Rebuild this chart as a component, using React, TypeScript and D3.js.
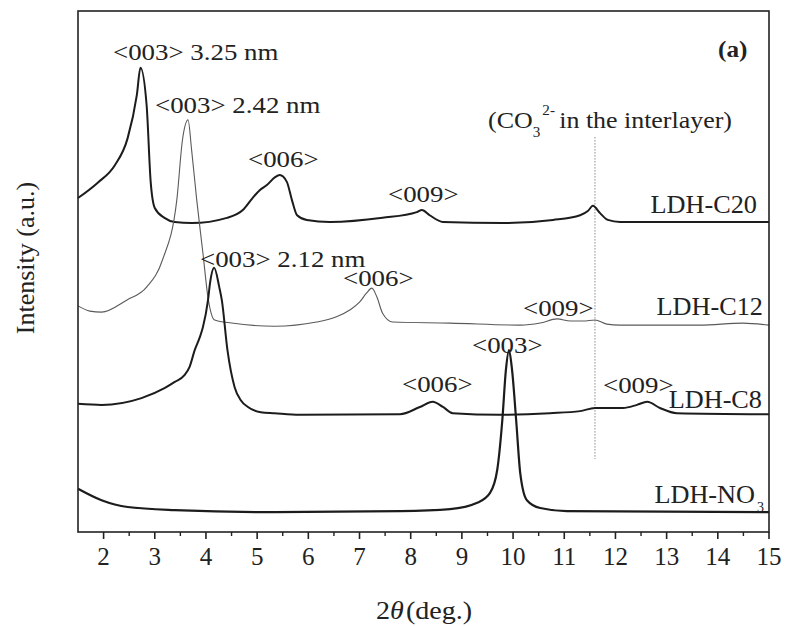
import React from "react";
import * as d3 from "d3";

// 2θ (deg.) and relative intensity (a.u., stacked offsets included) for each pattern
const c20TwoTheta = [1.5, 1.88, 2.22, 2.47, 2.65, 2.72, 2.84, 2.92, 3.0, 3.19, 3.39, 3.72, 4.41, 4.72, 4.91, 5.05, 5.19, 5.35, 5.44, 5.58, 5.68, 5.78, 5.97, 6.42, 7.45, 8.12, 8.22, 8.37, 8.63, 9.8, 10.78, 11.31, 11.46, 11.56, 11.7, 11.85, 12.09, 15.0];
const c20Intensity = [64.1, 67.0, 70.4, 75.6, 83.9, 89.1, 82.0, 67.2, 62.2, 60.3, 59.5, 59.3, 60.3, 61.8, 64.1, 65.6, 66.6, 68.1, 68.5, 67.2, 63.7, 60.8, 59.9, 59.5, 60.3, 61.4, 61.8, 60.8, 59.5, 59.3, 59.9, 60.8, 61.6, 62.6, 61.2, 59.9, 59.5, 59.5];

const c12TwoTheta = [1.5, 1.73, 1.96, 2.45, 2.84, 3.15, 3.43, 3.54, 3.65, 3.72, 3.82, 3.94, 4.04, 4.17, 4.5, 5.34, 6.16, 6.55, 6.81, 7.0, 7.14, 7.24, 7.34, 7.45, 7.65, 8.77, 10.14, 10.53, 10.86, 11.12, 11.37, 11.6, 11.83, 12.09, 13.65, 14.49, 15.0];
const c12Intensity = [43.4, 42.4, 42.2, 44.5, 47.0, 52.2, 63.7, 75.2, 79.1, 73.3, 63.7, 53.6, 45.0, 40.7, 40.1, 39.5, 40.3, 41.3, 42.6, 44.1, 45.9, 46.8, 45.1, 42.0, 40.3, 40.1, 39.7, 40.1, 40.9, 40.5, 40.5, 40.7, 39.9, 39.7, 39.7, 40.1, 39.7];

const c8TwoTheta = [1.5, 1.96, 2.74, 3.19, 3.39, 3.58, 3.68, 3.78, 3.88, 3.94, 4.04, 4.08, 4.16, 4.26, 4.31, 4.42, 4.56, 4.68, 4.82, 5.07, 5.34, 5.83, 7.79, 8.18, 8.43, 8.63, 8.82, 9.74, 10.72, 11.31, 11.6, 12.15, 12.42, 12.62, 12.87, 13.2, 15.0];
const c8Intensity = [24.6, 24.4, 25.7, 27.6, 28.8, 30.1, 31.7, 34.9, 37.4, 39.3, 44.5, 47.8, 50.7, 47.0, 44.5, 34.9, 27.8, 25.3, 24.0, 23.0, 22.8, 22.5, 22.6, 24.0, 25.0, 24.0, 22.8, 22.5, 22.8, 23.2, 23.8, 23.8, 24.4, 25.0, 23.8, 22.8, 22.6];

const no3TwoTheta = [1.5, 1.96, 2.47, 3.39, 5.34, 7.79, 8.77, 9.3, 9.55, 9.69, 9.79, 9.86, 9.92, 9.98, 10.06, 10.14, 10.27, 10.53, 11.05, 15.0];
const no3Intensity = [8.3, 6.1, 4.8, 4.2, 3.8, 4.0, 4.4, 5.6, 7.5, 11.9, 21.5, 31.1, 34.9, 31.1, 21.5, 11.3, 6.1, 4.6, 4.0, 3.8];

const xTickLabels = ["2", "3", "4", "5", "6", "7", "8", "9", "10", "11", "12", "13", "14", "15"];
const carbonatePosition = 11.6;
const carbonateSpan = [14.0, 75.8];

const SERIF = "'Liberation Serif', 'Times New Roman', serif";

const W = 788;
const H = 626;
const left = 78;
const right = 769;
const top = 11;
const bottom = 532;

const x = d3.scaleLinear().domain([1.5, 15]).range([left, right]);
const y = d3.scaleLinear().domain([0, 100]).range([bottom, top]);

const line = d3
  .line<[number, number]>()
  .x((d) => x(d[0]))
  .y((d) => y(d[1]))
  .curve(d3.curveMonotoneX);

const zip = (a: number[], b: number[]) => a.map((v, i) => [v, b[i]] as [number, number]);

const series = [
  { name: "C20", pts: zip(c20TwoTheta, c20Intensity), color: "#1c1c1c", width: 2 },
  { name: "C12", pts: zip(c12TwoTheta, c12Intensity), color: "#5a5a5a", width: 1.1 },
  { name: "C8", pts: zip(c8TwoTheta, c8Intensity), color: "#1c1c1c", width: 2 },
  { name: "NO3", pts: zip(no3TwoTheta, no3Intensity), color: "#1c1c1c", width: 2.2 },
];

function Label({
  x: lx,
  y: ly,
  children,
  size = 24,
  sx = 1.12,
  anchor = "start",
  weight = "normal",
}: {
  x: number;
  y: number;
  children: React.ReactNode;
  size?: number;
  sx?: number;
  anchor?: string;
  weight?: string;
}) {
  return (
    <text
      transform={`translate(${lx},${ly}) scale(${sx},1)`}
      fontFamily={SERIF}
      fontSize={size}
      fontWeight={weight}
      textAnchor={anchor}
      fill="#222"
    >
      {children}
    </text>
  );
}

export default function App() {
  const majors = xTickLabels.map(Number);
  const minors = d3.range(1.5, 15.01, 0.5).filter((v) => !majors.includes(v) && v > 1.5);

  return (
    <svg
      width={W}
      height={H}
      style={{ position: "absolute", left: 0, top: 0, background: "#fff" }}
    >
      <rect x={0} y={0} width={W} height={H} fill="#fff" />

      {/* carbonate reflection marker */}
      <line
        x1={x(carbonatePosition)}
        x2={x(carbonatePosition)}
        y1={y(carbonateSpan[1])}
        y2={y(carbonateSpan[0])}
        stroke="#8a8a8a"
        strokeWidth={1}
        strokeDasharray="1.5,1.5"
      />

      {series.map((s) => (
        <path
          key={s.name}
          d={line(s.pts) || ""}
          fill="none"
          stroke={s.color}
          strokeWidth={s.width}
          strokeLinejoin="round"
        />
      ))}

      {/* frame */}
      <rect
        x={left}
        y={top}
        width={right - left}
        height={bottom - top}
        fill="none"
        stroke="#222"
        strokeWidth={1.6}
      />

      {/* bottom axis ticks */}
      {majors.map((v) => (
        <line key={`M${v}`} x1={x(v)} x2={x(v)} y1={bottom} y2={bottom + 7} stroke="#222" strokeWidth={1.6} />
      ))}
      {minors.map((v) => (
        <line key={`m${v}`} x1={x(v)} x2={x(v)} y1={bottom} y2={bottom + 4} stroke="#222" strokeWidth={1.4} />
      ))}
      {xTickLabels.map((t) => (
        <Label key={t} x={x(Number(t))} y={565} size={25} sx={1.0} anchor="middle">
          {t}
        </Label>
      ))}

      {/* axis titles */}
      <text
        transform={`translate(34,258) rotate(-90)`}
        fontFamily={SERIF}
        fontSize={26}
        textAnchor="middle"
        fill="#222"
      >
        Intensity (a.u.)
      </text>
      <text
        transform="translate(424,619) scale(1.08,1)"
        fontFamily={SERIF}
        fontSize={26}
        textAnchor="middle"
        fill="#222"
      >
        2<tspan fontStyle="italic">θ</tspan>
        <tspan dx={2}>(deg.)</tspan>
      </text>

      {/* peak annotations */}
      <Label x={113} y={60}>&lt;003&gt; 3.25 nm</Label>
      <Label x={155} y={113}>&lt;003&gt; 2.42 nm</Label>
      <Label x={248} y={167}>&lt;006&gt;</Label>
      <Label x={388} y={202}>&lt;009&gt;</Label>
      <Label x={200} y={267}>&lt;003&gt; 2.12 nm</Label>
      <Label x={343} y={286}>&lt;006&gt;</Label>
      <Label x={523} y={316}>&lt;009&gt;</Label>
      <Label x={472} y={353}>&lt;003&gt;</Label>
      <Label x={402} y={392}>&lt;006&gt;</Label>
      <Label x={603} y={393}>&lt;009&gt;</Label>

      {/* sample names */}
      <Label x={757} y={213} size={25} sx={1.05} anchor="end">LDH-C20</Label>
      <Label x={763} y={315} size={25} sx={1.05} anchor="end">LDH-C12</Label>
      <Label x={762} y={408} size={25} sx={1.05} anchor="end">LDH-C8</Label>
      <Label x={755} y={503} size={25} sx={1.05} anchor="end">LDH-NO</Label>
      <Label x={757} y={512} size={14} sx={1.0}>3</Label>

      {/* panel tag and carbonate note */}
      <Label x={718} y={57} size={24} sx={1.05} weight="bold">(a)</Label>
      <text
        transform="translate(488,128) scale(1.08,1)"
        fontFamily={SERIF}
        fontSize={24}
        fill="#222"
      >
        (CO
        <tspan fontSize={14} dy={9}>3</tspan>
        <tspan fontSize={14} dy={-22} dx={2}>2-</tspan>
        <tspan dy={13} dx={4}>in the interlayer)</tspan>
      </text>
    </svg>
  );
}
